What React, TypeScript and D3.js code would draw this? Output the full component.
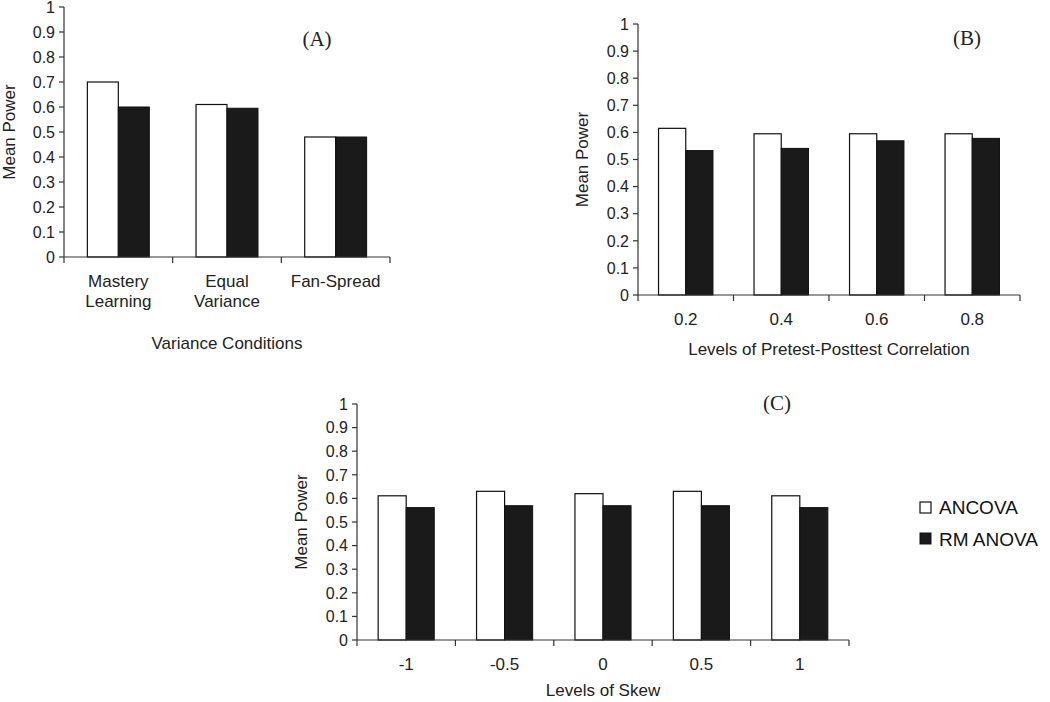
import React from "react";
import * as d3 from "d3";

const seriesNames = ["ANCOVA", "RM ANOVA"];

const catsA = ["Mastery|Learning", "Equal|Variance", "Fan-Spread"];
const ancovaA = [0.70, 0.61, 0.48];
const rmA = [0.60, 0.595, 0.48];

const catsB = ["0.2", "0.4", "0.6", "0.8"];
const ancovaB = [0.615, 0.595, 0.595, 0.595];
const rmB = [0.533, 0.541, 0.569, 0.578];

const catsC = ["-1", "-0.5", "0", "0.5", "1"];
const ancovaC = [0.611, 0.63, 0.62, 0.63, 0.611];
const rmC = [0.561, 0.569, 0.569, 0.569, 0.561];

const yTicks = [0, 0.1, 0.2, 0.3, 0.4, 0.5, 0.6, 0.7, 0.8, 0.9, 1];

const FONT = "'Liberation Sans', Arial, Helvetica, sans-serif";
const SERIF = "'Liberation Serif', 'Times New Roman', serif";

type PanelProps = {
  cats: string[];
  a: number[];
  b: number[];
  x0: number;
  x1: number;
  yZero: number;
  yOne: number;
  label: string;
  labelX: number;
  labelY: number;
  title: string;
  titleY: number;
  catY: number;
  yTitleX: number;
};

function Panel(p: PanelProps) {
  const x = d3.scaleBand<string>().domain(p.cats).range([p.x0, p.x1]).padding(0);
  const y = d3.scaleLinear().domain([0, 1]).range([p.yZero, p.yOne]);
  const bw = x.bandwidth();
  const group = bw * 0.57;
  const barW = group / 2;
  const ticksX = [p.x0, ...p.cats.map((c) => (x(c) as number) + bw)];
  return (
    <g>
      {p.cats.map((c, i) => {
        const cx = (x(c) as number) + bw / 2;
        const left = cx - group / 2;
        return (
          <g key={c}>
            <rect x={left} y={y(p.a[i])} width={barW} height={y(0) - y(p.a[i])} fill="#fff" stroke="#111" strokeWidth={1.2} />
            <rect x={left + barW} y={y(p.b[i])} width={barW} height={y(0) - y(p.b[i])} fill="#1a1a1a" stroke="#111" strokeWidth={1} />
          </g>
        );
      })}
      <line x1={p.x0} x2={p.x0} y1={y(1)} y2={y(0)} stroke="#333" strokeWidth={1.2} />
      <line x1={p.x0} x2={p.x1} y1={y(0)} y2={y(0)} stroke="#333" strokeWidth={1.2} />
      {yTicks.map((t) => (
        <g key={t}>
          <line x1={p.x0 - 5} x2={p.x0} y1={y(t)} y2={y(t)} stroke="#333" strokeWidth={1.2} />
          <text x={p.x0 - 9} y={y(t)} dy="0.36em" textAnchor="end" fontSize={16} fontFamily={FONT} fill="#222">
            {String(t)}
          </text>
        </g>
      ))}
      {ticksX.map((tx, i) => (
        <line key={i} x1={tx} x2={tx} y1={y(0)} y2={y(0) + 6} stroke="#333" strokeWidth={1.2} />
      ))}
      {p.cats.map((c) => {
        const cx = (x(c) as number) + bw / 2;
        const lines = c.split("|");
        return (
          <text key={c} x={cx} y={p.catY} textAnchor="middle" fontSize={17} fontFamily={FONT} fill="#222">
            {lines.map((l, j) => (
              <tspan key={j} x={cx} dy={j === 0 ? 0 : 20}>
                {l}
              </tspan>
            ))}
          </text>
        );
      })}
      <text x={(p.x0 + p.x1) / 2} y={p.titleY} textAnchor="middle" fontSize={17} fontFamily={FONT} fill="#222">
        {p.title}
      </text>
      <text
        transform={`translate(${p.yTitleX},${(p.yZero + p.yOne) / 2}) rotate(-90)`}
        textAnchor="middle"
        dy="0.36em"
        fontSize={17}
        fontFamily={FONT}
        fill="#222"
      >
        Mean Power
      </text>
      <text x={p.labelX} y={p.labelY} dy="0.35em" textAnchor="middle" fontSize={21} fontFamily={SERIF} fill="#222">
        {p.label}
      </text>
    </g>
  );
}

export default function App() {
  return (
    <svg width={1050} height={702} style={{ position: "absolute", left: 0, top: 0, background: "#fff" }}>
      <rect x={0} y={0} width={1050} height={702} fill="#fff" />
      <Panel
        cats={catsA}
        a={ancovaA}
        b={rmA}
        x0={64}
        x1={390}
        yZero={257}
        yOne={7}
        label="(A)"
        labelX={317}
        labelY={39}
        title="Variance Conditions"
        titleY={349}
        catY={287}
        yTitleX={9}
      />
      <Panel
        cats={catsB}
        a={ancovaB}
        b={rmB}
        x0={638}
        x1={1020}
        yZero={295}
        yOne={24}
        label="(B)"
        labelX={967}
        labelY={38}
        title="Levels of Pretest-Posttest Correlation"
        titleY={355}
        catY={325}
        yTitleX={582}
      />
      <Panel
        cats={catsC}
        a={ancovaC}
        b={rmC}
        x0={357}
        x1={849}
        yZero={640}
        yOne={404}
        label="(C)"
        labelX={777}
        labelY={403}
        title="Levels of Skew"
        titleY={696}
        catY={670}
        yTitleX={301}
      />
      <g>
        <rect x={920} y={502} width={11} height={11} fill="#fff" stroke="#111" strokeWidth={1.2} />
        <text x={939} y={507.5} dy="0.36em" fontSize={19} fontFamily={FONT} fill="#111">
          {seriesNames[0]}
        </text>
        <rect x={920} y={533} width={11} height={11} fill="#1a1a1a" stroke="#111" strokeWidth={1} />
        <text x={939} y={539} dy="0.36em" fontSize={19} fontFamily={FONT} fill="#111">
          {seriesNames[1]}
        </text>
      </g>
    </svg>
  );
}
